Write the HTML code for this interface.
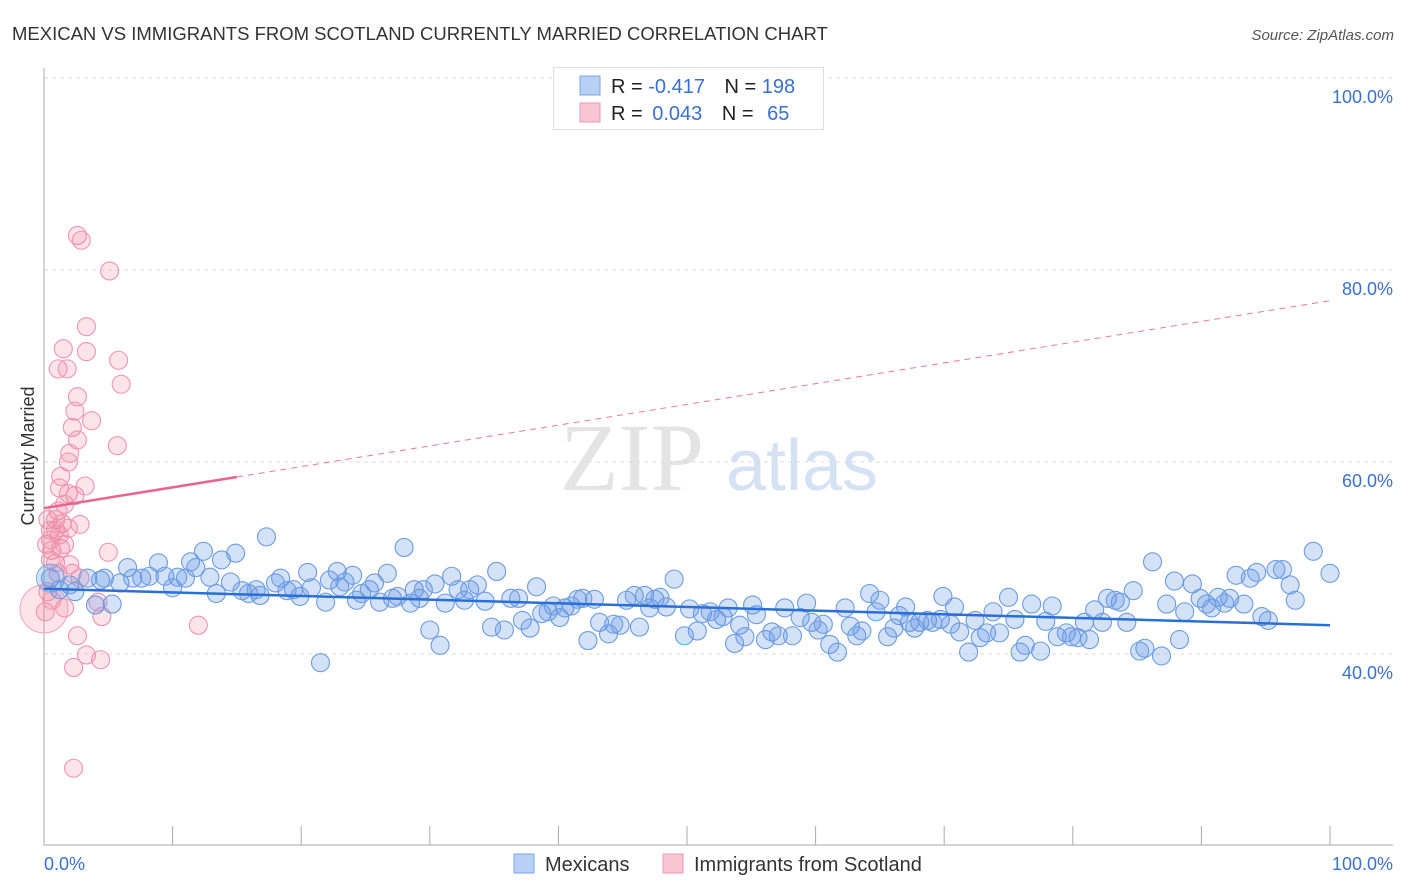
<!DOCTYPE html>
<html><head><meta charset="utf-8"><style>
body{margin:0;background:#fff;font-family:"Liberation Sans",sans-serif;}
svg{display:block}
</style></head><body>
<svg id="chart" width="1406" height="892" xmlns="http://www.w3.org/2000/svg">
<text x="12" y="40" font-size="18.5" fill="#333">MEXICAN VS IMMIGRANTS FROM SCOTLAND CURRENTLY MARRIED CORRELATION CHART</text>
<text x="1394" y="40" font-size="15" fill="#555" font-style="italic" text-anchor="end">Source: ZipAtlas.com</text>
<g>
<text x="632" y="490" font-size="96" font-family="Liberation Serif" fill="#e4e4e4" text-anchor="middle">ZIP</text>
<text x="802" y="490" font-size="72" fill="#d4e2f4" text-anchor="middle">atlas</text>
</g>
<g id="grid"></g>
<g id="axes"></g>
<text transform="translate(34,456) rotate(-90)" font-size="18" fill="#333" text-anchor="middle">Currently Married</text>
<g id="pts"></g>
<g id="trends"></g>
<g>
<rect x="553.5" y="67.5" width="270" height="62" fill="#fff" stroke="#ddd"/>
<rect x="580" y="76" width="20" height="19" fill="#b8d0f4" stroke="#7aa6e6"/>
<rect x="580" y="103" width="20" height="19" fill="#f9c4d4" stroke="#ee9ab4"/>
<text x="611" y="93" font-size="20" fill="#222">R = <tspan fill="#3a70d0">-0.417</tspan>  <tspan dx="14">N = </tspan><tspan fill="#3a70d0">198</tspan></text>
<text x="611" y="120" font-size="20" fill="#222">R = <tspan fill="#3a70d0" dx="4">0.043</tspan>  <tspan dx="14">N = </tspan><tspan fill="#3a70d0" dx="8">65</tspan></text>
</g>
<g>
<rect x="514" y="854" width="20" height="19" fill="#b8d0f4" stroke="#7aa6e6"/>
<text x="545" y="871" font-size="20" fill="#333">Mexicans</text>
<rect x="663" y="854" width="20" height="19" fill="#f9c4d4" stroke="#ee9ab4"/>
<text x="694" y="871" font-size="20" fill="#333">Immigrants from Scotland</text>
</g>
</svg>
<script>
const yTicks=[40,60,80,100];
const yTickLabels=["40.0%","60.0%","80.0%","100.0%"];
const xTickLabels=["0.0%","100.0%"];
const blueX=[0.5,1.2,2.0,2.4,3.4,4.0,4.4,5.3,4.7,5.9,6.5,6.9,7.6,8.2,8.9,9.4,10.0,10.4,11.0,11.4,11.8,12.4,12.9,13.4,13.8,14.5,14.9,15.4,15.9,16.5,16.8,17.3,18.0,18.4,18.9,19.4,19.9,20.5,20.8,21.5,21.9,22.2,22.8,23.0,23.4,24.0,24.3,24.7,25.3,25.7,26.1,26.7,27.1,27.5,28.0,28.5,28.8,29.2,29.5,30.0,30.4,30.8,31.2,31.7,32.2,32.7,33.1,33.7,34.3,34.8,35.2,35.8,36.3,36.9,37.2,37.8,38.3,38.7,39.2,39.6,40.1,40.5,41.0,41.5,41.9,42.3,42.8,43.2,43.9,44.3,44.8,45.3,45.9,46.3,46.7,47.1,47.5,47.9,48.4,49.0,49.8,50.2,50.8,51.2,51.8,52.3,52.8,53.2,53.7,54.1,54.5,55.1,55.4,56.1,56.6,57.1,57.6,58.2,58.8,59.3,59.7,60.2,60.6,61.1,61.7,62.3,62.7,63.2,63.6,64.2,64.7,65.0,65.6,66.1,66.5,67.0,67.3,67.7,68.1,68.7,69.1,69.7,69.9,70.5,70.8,71.2,71.9,72.4,72.8,73.3,73.8,74.3,75.0,75.5,75.9,76.3,76.8,77.5,77.9,78.4,78.8,79.5,79.9,80.4,80.9,81.3,81.7,82.3,82.7,83.3,83.7,84.2,84.7,85.2,85.6,86.2,86.9,87.3,87.9,88.3,88.7,89.3,89.9,90.4,90.8,91.3,91.8,92.2,92.7,93.3,93.8,94.3,94.7,95.2,95.8,96.3,96.9,97.3,98.7,100];
const blueY=[47.9,46.7,47.2,46.5,47.9,45.1,47.7,45.2,47.9,47.4,49.0,47.9,47.9,48.1,49.5,48.1,46.9,48.0,47.9,49.6,49.0,50.7,48.0,46.3,49.8,47.5,50.5,46.6,46.3,46.7,46.1,52.2,47.4,47.9,46.6,46.7,46.0,48.5,46.9,39.1,45.4,47.7,48.6,47.0,47.5,48.2,45.6,46.3,46.7,47.4,45.4,48.4,45.8,46.0,51.1,45.3,46.7,45.8,46.7,42.5,47.3,40.9,45.3,48.1,46.7,45.6,46.7,47.2,45.5,42.8,48.6,42.5,45.8,45.8,43.5,42.7,47.0,44.2,44.4,45.0,43.8,44.8,45.0,45.7,45.8,41.4,45.7,43.3,42.1,43.1,43.0,45.6,46.1,42.8,46.1,44.8,45.7,45.9,44.9,47.8,41.9,44.7,42.4,44.2,44.4,43.6,43.9,44.8,41.1,43.0,41.8,45.1,44.1,41.5,42.3,41.9,44.8,41.9,43.8,45.3,43.3,42.5,43.1,41.0,40.2,44.8,42.9,41.9,42.4,46.3,44.4,45.6,41.8,42.7,44.0,44.9,43.3,42.7,43.3,43.5,43.3,43.6,46.0,43.1,44.9,42.3,40.2,43.5,41.7,42.2,44.4,42.2,45.9,43.6,40.2,40.9,45.2,40.3,43.4,45.0,41.8,42.2,41.8,41.7,43.3,41.5,44.6,43.3,45.8,45.6,45.4,43.3,46.6,40.3,40.6,49.6,39.8,45.2,47.6,41.5,44.4,47.3,45.8,45.2,44.8,45.9,45.3,45.8,48.2,45.2,47.9,48.5,43.9,43.5,48.8,48.8,47.2,45.6,50.7,48.4];
const pinkX=[2.6,2.9,5.1,3.3,1.5,3.3,5.8,1.1,1.8,6.0,2.6,2.4,3.7,2.2,2.6,5.7,2.0,1.9,1.3,1.2,3.2,1.9,1.6,2.4,1.1,0.9,0.3,1.4,2.8,1.9,0.5,0.9,0.2,0.6,1.3,5.0,0.5,2.0,0.9,2.2,2.8,4.2,0.1,1.6,4.5,12.0,2.6,3.3,4.4,2.3,2.3,0.3,0.6,1.1,1.6,0.5,1.2];
const pinkY=[83.6,83.1,79.9,74.1,71.8,71.5,70.6,69.7,69.7,68.1,66.8,65.3,64.3,63.6,62.3,61.7,60.9,60.0,58.5,57.3,57.5,56.7,55.6,56.5,54.9,54.0,54.0,53.6,53.5,53.1,52.9,52.9,51.4,50.8,51.0,50.6,49.8,49.3,49.5,48.4,47.9,45.4,44.4,44.8,43.9,43.0,41.9,39.9,39.4,38.6,28.1,46.5,45.6,48.4,51.4,51.9,52.4];
const blueTrend=[46.8,43.0];
const pinkTrend=[55.2,76.8];
const pinkSolidEnd=15;

const NS="http://www.w3.org/2000/svg";
const X0=44,X1=1330,Y40=654,Y100=78;
const xs=v=>X0+(X1-X0)*v/100;
const ys=v=>Y40-(v-40)*(Y40-Y100)/60;
function mk(tag,attrs,parent){const e=document.createElementNS(NS,tag);for(const k in attrs)e.setAttribute(k,attrs[k]);parent.appendChild(e);return e;}
const grid=document.getElementById('grid'),axes=document.getElementById('axes');
yTicks.forEach((t,i)=>{
  const l=mk('line',{x1:X0,x2:1393,y1:ys(t),y2:ys(t),stroke:'#ddd','stroke-dasharray':'4,4'},grid);
  
  
  const tx=mk('text',{x:1393,y:ys(t)+25,'font-size':18,fill:'#3a70d0','text-anchor':'end'},axes);
  tx.textContent=yTickLabels[i];
  
  
});
mk('line',{x1:X0,x2:X0,y1:68,y2:845,stroke:'#aaa'},axes);
mk('line',{x1:X0,x2:1393,y1:845,y2:845,stroke:'#aaa'},axes);
for(let i=0;i<=10;i++){mk('line',{x1:xs(i*10),x2:xs(i*10),y1:826,y2:845,stroke:'#aaa'},axes);}
const xl0=mk('text',{x:44,y:870,'font-size':18,fill:'#3a70d0'},axes);xl0.textContent=xTickLabels[0];


const xl1=mk('text',{x:1393,y:870,'font-size':18,fill:'#3a70d0','text-anchor':'end'},axes);xl1.textContent=xTickLabels[1];


const pts=document.getElementById('pts');
const big1=mk('circle',{cx:xs(0),cy:ys(44.7),r:24,fill:'rgba(240,130,160,0.22)',stroke:'#f0a6bd'},pts);


pinkX.forEach((x,i)=>{const c=mk('circle',{cx:xs(x),cy:ys(pinkY[i]),r:9,fill:'rgba(240,130,160,0.22)',stroke:'#ee94b0','stroke-width':1.1},pts);

});
const big2=mk('circle',{cx:xs(0.5),cy:ys(47.9),r:14,fill:'rgba(100,150,230,0.28)',stroke:'#7aa6e6'},pts);


blueX.forEach((x,i)=>{const c=mk('circle',{cx:xs(x),cy:ys(blueY[i]),r:9,fill:'rgba(100,150,230,0.28)',stroke:'#6b9be2','stroke-width':1.1},pts);

});
const tr=document.getElementById('trends');
const pAt=x=>pinkTrend[0]+(pinkTrend[1]-pinkTrend[0])*x/100;
const d1=mk('line',{x1:xs(pinkSolidEnd),y1:ys(pAt(pinkSolidEnd)),x2:xs(100),y2:ys(pinkTrend[1]),stroke:'#e87a9c','stroke-width':1,'stroke-dasharray':'6,5'},tr);


const s1=mk('line',{x1:xs(0),y1:ys(pinkTrend[0]),x2:xs(pinkSolidEnd),y2:ys(pAt(pinkSolidEnd)),stroke:'#e8648c','stroke-width':2.5},tr);


const b1=mk('line',{x1:xs(0),y1:ys(blueTrend[0]),x2:xs(100),y2:ys(blueTrend[1]),stroke:'#2a6fd6','stroke-width':2.5},tr);


</script>
</body></html>
